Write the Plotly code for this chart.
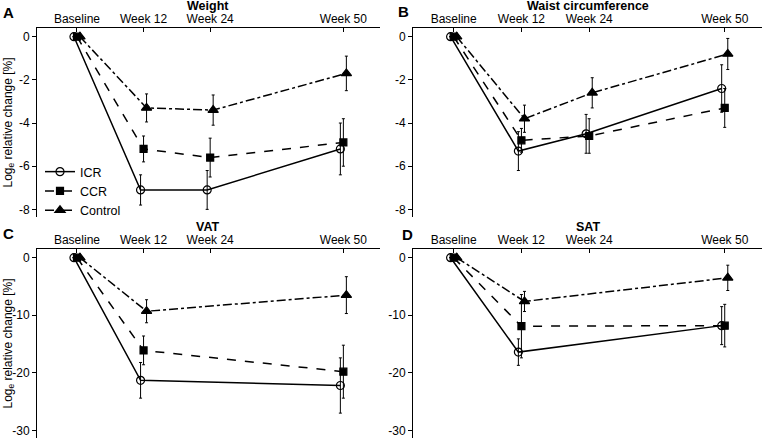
import plotly.graph_objects as go

W, H = 764, 442

week_labels = ["Baseline", "Week 12", "Week 24", "Week 50"]
week_pos = [0, 1, 2, 4]

groups = ["ICR", "CCR", "Control"]

# Weight
weight_icr = [0, -7.1, -7.1, -5.2]
weight_icr_err = [0, 0.7, 0.9, 1.2]
weight_ccr = [0, -5.2, -5.6, -4.9]
weight_ccr_err = [0, 0.6, 0.9, 1.1]
weight_ctl = [0, -3.3, -3.4, -1.7]
weight_ctl_err = [0, 0.65, 0.7, 0.8]

# Waist circumference
waist_icr = [0, -5.3, -4.5, -2.4]
waist_icr_err = [0, 0.9, 0.9, 1.1]
waist_ccr = [0, -4.8, -4.6, -3.3]
waist_ccr_err = [0, 0.55, 0.8, 0.9]
waist_ctl = [0, -3.8, -2.6, -0.8]
waist_ctl_err = [0, 0.63, 0.7, 0.72]

# VAT
vat_icr = [0, -21.3, None, -22.2]
vat_icr_err = [0, 3.1, None, 4.8]
vat_ccr = [0, -16.1, None, -19.8]
vat_ccr_err = [0, 2.5, None, 4.6]
vat_ctl = [0, -9.3, None, -6.5]
vat_ctl_err = [0, 2.0, None, 3.2]

# SAT
sat_icr = [0, -16.4, None, -11.8]
sat_icr_err = [0, 2.3, None, 3.3]
sat_ccr = [0, -11.9, None, -11.8]
sat_ccr_err = [0, 5.5, None, 3.7]
sat_ctl = [0, -7.6, None, -3.5]
sat_ctl_err = [0, 1.75, None, 2.2]

panel_titles = ["Weight", "Waist circumference", "VAT", "SAT"]
panel_letters = ["A", "B", "C", "D"]

ytick_small = [0, -2, -4, -6, -8]
ytick_small_text = ["0", "-2", "-4", "-6", "-8"]
ytick_large = [0, -10, -20, -30]
ytick_large_text = ["0", "-10", "-20", "-30"]

panels = [
    (weight_icr, weight_icr_err, weight_ccr, weight_ccr_err, weight_ctl, weight_ctl_err),
    (waist_icr, waist_icr_err, waist_ccr, waist_ccr_err, waist_ctl, waist_ctl_err),
    (vat_icr, vat_icr_err, vat_ccr, vat_ccr_err, vat_ctl, vat_ctl_err),
    (sat_icr, sat_icr_err, sat_ccr, sat_ccr_err, sat_ctl, sat_ctl_err),
]

styles = {
    "ICR": dict(dash="solid", symbol="circle-open", size=8, offset=-0.045),
    "CCR": dict(dash="dash", symbol="square", size=7, offset=0.0),
    "Control": dict(dash="dashdot", symbol="triangle-up", size=9, offset=0.045),
}

FONT = "Liberation Sans, Arial, sans-serif"

# pixel layout of panels: (left, right, top, bottom)
boxes = [
    (37, 380, 28.3, 216.7),
    (413, 762, 28.3, 216.7),
    (37, 380, 249.3, 437.7),
    (413, 762, 249.3, 437.7),
]
yranges = [(-8.34, 0.39), (-8.34, 0.39), (-31.27, 1.46), (-31.27, 1.46)]
letter_centers = [(8.5, 12), (404, 11), (8.5, 233), (407, 234)]

fig = go.Figure()
annotations = []
for i, (vals, box, yr) in enumerate(zip(panels, boxes, yranges)):
    k = "" if i == 0 else str(i + 1)
    xa, ya = "x" + k, "y" + k
    series = [(groups[0], vals[0], vals[1]), (groups[1], vals[2], vals[3]), (groups[2], vals[4], vals[5])]
    for name, y, e in series:
        st = styles[name]
        xs = [p + st["offset"] for p in week_pos]
        fig.add_trace(go.Scatter(
            x=xs, y=y, name=name, mode="lines+markers",
            connectgaps=True, showlegend=(i == 0),
            line=dict(color="black", width=1.5, dash=st["dash"]),
            marker=dict(symbol=st["symbol"], size=st["size"], color="black",
                        line=dict(color="black", width=1.2)),
            error_y=dict(type="data", array=e, visible=True, color="black",
                         thickness=1, width=1.5),
            xaxis=xa, yaxis=ya,
        ))
    l, r, t, b = box
    xdom = [l / W, r / W]
    ydom = [1 - b / H, 1 - t / H]
    small = i < 2
    fig.layout["xaxis" + k] = dict(
        domain=xdom, range=[-0.6, 4.55], anchor=ya, side="top",
        tickvals=week_pos, ticktext=week_labels, ticks="inside", ticklen=4,
        tickcolor="black", showline=True, linecolor="black", linewidth=1,
        showgrid=False, zeroline=False, automargin=False,
        tickfont=dict(family=FONT, size=12, color="black"),
    )
    fig.layout["yaxis" + k] = dict(
        domain=ydom, range=list(yr), anchor=xa,
        tickvals=ytick_small if small else ytick_large,
        ticktext=ytick_small_text if small else ytick_large_text,
        ticks="outside", ticklen=4, tickcolor="black",
        showline=True, linecolor="black", linewidth=1,
        showgrid=False, zeroline=False, automargin=False,
        tickfont=dict(family=FONT, size=12, color="black"),
    )
    annotations.append(dict(
        text="<b>" + panel_titles[i] + "</b>", xref="paper", yref="paper",
        x=(l + r) / 2 / W, y=1 - (t - 22) / H, xanchor="center", yanchor="middle",
        showarrow=False, font=dict(family=FONT, size=12.5, color="black"),
    ))
    cx, cy = letter_centers[i]
    annotations.append(dict(
        text="<b>" + panel_letters[i] + "</b>", xref="paper", yref="paper",
        x=cx / W, y=1 - cy / H, xanchor="center", yanchor="middle",
        showarrow=False, font=dict(family=FONT, size=15, color="black"),
    ))
    if i % 2 == 0:
        annotations.append(dict(
            text="Log<sub>e</sub> relative change [%]", xref="paper", yref="paper",
            x=8 / W, y=1 - (t + b) / 2 / H, xanchor="center", yanchor="middle",
            textangle=-90, showarrow=False,
            font=dict(family=FONT, size=12, color="black"),
        ))

fig.update_layout(
    width=W, height=H,
    margin=dict(l=0, r=0, t=0, b=0, autoexpand=False),
    paper_bgcolor="white", plot_bgcolor="white",
    annotations=annotations,
    legend=dict(x=40 / W, y=1 - 157 / H, xanchor="left", yanchor="top",
                bgcolor="rgba(0,0,0,0)", font=dict(family=FONT, size=12.5, color="black"),
                tracegroupgap=0, itemwidth=30),
    font=dict(family=FONT, color="black"),
)

fig.write_html("out.html", config={"displayModeBar": False},
               post_script="document.body.style.margin='0';")
